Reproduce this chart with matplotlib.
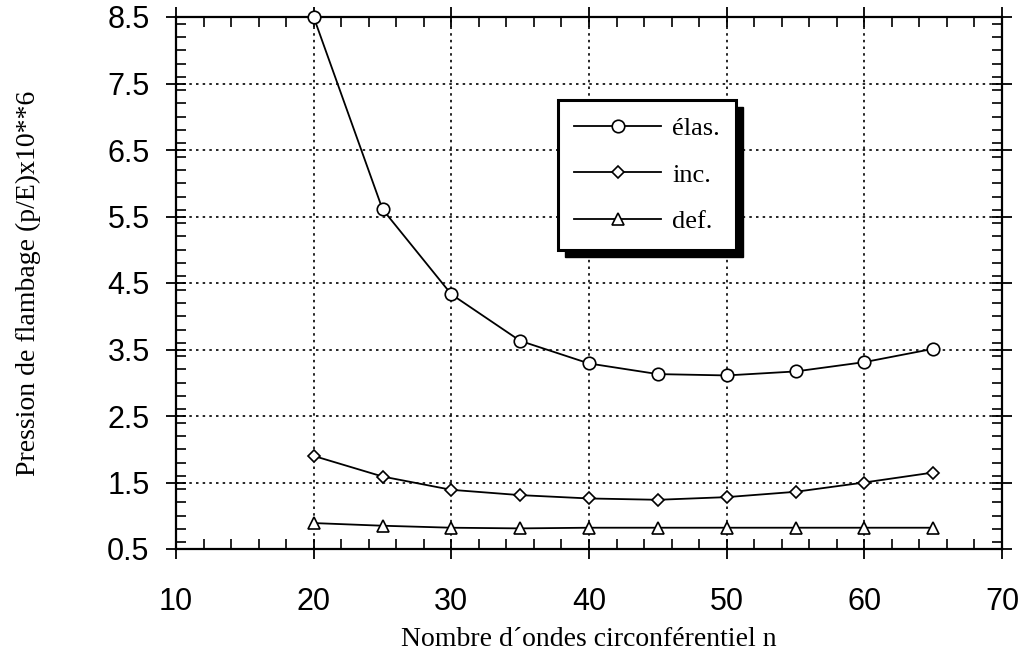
import numpy as np
import matplotlib
matplotlib.use('Agg')
import matplotlib.pyplot as plt
from matplotlib.ticker import MultipleLocator, FixedLocator
from matplotlib.patches import Rectangle

# nombre d'ondes n
n = [20, 25, 30, 35, 40, 45, 50, 55, 60, 65]
elas = [8.5, 5.61, 4.33, 3.63, 3.29, 3.13, 3.11, 3.17, 3.31, 3.51]
inc = [1.90, 1.59, 1.39, 1.31, 1.26, 1.24, 1.28, 1.36, 1.50, 1.65]
defo = [0.89, 0.85, 0.82, 0.81, 0.82, 0.82, 0.82, 0.82, 0.82, 0.82]

xticks = [10, 20, 30, 40, 50, 60, 70]
yticks = [0.5, 1.5, 2.5, 3.5, 4.5, 5.5, 6.5, 7.5, 8.5]

fig = plt.figure(figsize=(10.27, 6.57), dpi=100)
ax = fig.add_axes([176/1027, 1-549/657, (1002-176)/1027, (549-17)/657])

kw = dict(color='black', lw=1.3, clip_on=False, zorder=5)
ax.plot(n, elas, marker='o', ms=9, mfc='white', mec='black', mew=1.2, label='élas.', **kw)
ax.plot(n, inc, marker='D', ms=6, mfc='white', mec='black', mew=1.2, label='inc.', **kw)
ax.plot(n, defo, marker='^', ms=8, mfc='white', mec='black', mew=1.2, label='def.', **kw)

ax.set_xlim(10, 70)
ax.set_ylim(0.5, 8.5)
ax.xaxis.set_major_locator(FixedLocator(xticks))
ax.yaxis.set_major_locator(FixedLocator(yticks))
ax.xaxis.set_minor_locator(MultipleLocator(2))
ax.yaxis.set_minor_locator(MultipleLocator(0.2))

ax.tick_params(which='major', direction='inout', length=14, width=1.3,
               top=True, right=True)
ax.tick_params(which='minor', direction='in', length=7, width=1.2, top=True, right=True)
ax.tick_params(axis='x', pad=20)
ax.tick_params(axis='y', pad=12)
ax.set_xticklabels([str(v) for v in xticks], family='Liberation Sans', fontsize=22)
ax.set_yticklabels([str(v) for v in yticks], family='Liberation Sans', fontsize=22)

for s in ax.spines.values():
    s.set_linewidth(1.6)

ax.grid(True, which='major', color='black', linestyle=(0, (1.5, 2.5)), lw=1.2)

ax.set_xlabel('Nombre d´ondes circonférentiel n', family='Liberation Serif', fontsize=20)
ax.set_ylabel('Pression de flambage (p/E)x10**6', family='Liberation Serif', fontsize=20)
ax.xaxis.set_label_coords(0.5, (549-640)/532, transform=ax.transAxes)
ax.yaxis.set_label_coords((28-176)/826, 0.5)
ax.xaxis.label.set_va('center')
ax.yaxis.label.set_va('center')

leg = ax.legend(loc='upper left', bbox_to_anchor=((558-176)/826, 1-(100-17)/532),
                prop={'family': 'Liberation Serif', 'size': 19}, frameon=True, fancybox=False,
                shadow=False, handlelength=3.3, borderpad=0.62,
                labelspacing=0.88, handletextpad=0.4, borderaxespad=0)
leg.get_frame().set_edgecolor('black')
leg.get_frame().set_linewidth(2.2)
leg.get_frame().set_alpha(1)
leg.set_zorder(10)

# drop shadow like the original
fig.canvas.draw()
bb = leg.get_window_extent()
ax.add_artist(Rectangle((bb.x0 + 7, bb.y0 - 7), bb.width, bb.height, transform=None,
                        facecolor='black', edgecolor='black', zorder=9))

fig.savefig('out.png', dpi=100)
